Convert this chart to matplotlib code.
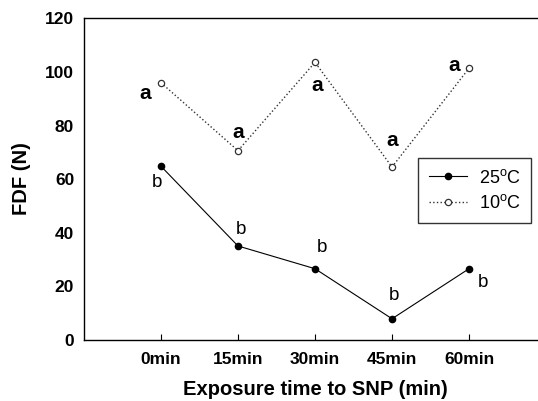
import matplotlib
matplotlib.use("Agg")
import matplotlib.pyplot as plt

plt.rcParams['font.family'] = ['Liberation Sans', 'DejaVu Sans']

categories = ["0min", "15min", "30min", "45min", "60min"]
fdf_25 = [64.8, 35.0, 26.5, 7.8, 26.5]
fdf_10 = [96.0, 70.6, 103.6, 64.5, 101.4]
letters_25 = ["b", "b", "b", "b", "b"]
letters_10 = ["a", "a", "a", "a", "a"]
yticks = [0, 20, 40, 60, 80, 100, 120]

fig = plt.figure(figsize=(5.38, 4.01), dpi=100)
ax = fig.add_axes([0.156, 0.153, 0.859, 0.801])

x = list(range(len(categories)))
ax.plot(x, fdf_25, color='black', lw=0.8, marker='o', ms=4.5,
        mfc='black', mec='black', label='25$^{\\mathregular{o}}$C')
ax.plot(x, fdf_10, color='#333333', lw=1.0, ls=':', marker='o', ms=4.5,
        mfc='white', mec='#333333', mew=0.9, label='10$^{\\mathregular{o}}$C')

# letter annotations (offsets in points)
off_10 = [(-11.5, -8), (0, 13), (1.5, -16.5), (0, 19), (-11, 2)]
off_25 = [(-3, -12), (2, 11.5), (5, 15), (1.5, 16.5), (10, -10)]
for i in x:
    ax.annotate(letters_10[i], (x[i], fdf_10[i]), xytext=off_10[i],
                textcoords='offset points', ha='center', va='center',
                fontsize=15, fontweight='bold')
    ax.annotate(letters_25[i], (x[i], fdf_25[i]), xytext=off_25[i],
                textcoords='offset points', ha='center', va='center',
                fontsize=13.5)

ax.set_xlim(-1, 5)
ax.set_ylim(0, 120)
ax.set_xticks(x)
ax.set_xticklabels(categories, fontsize=12.5, fontweight='bold')
ax.set_yticks(yticks)
ax.set_yticklabels([str(v) for v in yticks], fontsize=12.5, fontweight='bold')
ax.tick_params(axis='x', direction='in', length=4, pad=9)
ax.tick_params(axis='y', direction='in', length=0, pad=7)
for s in ax.spines.values():
    s.set_linewidth(1.0)
ax.spines['right'].set_visible(False)

ax.set_xlabel('Exposure time to SNP (min)', fontsize=14.5, fontweight='bold', labelpad=9)
ax.set_ylabel('FDF (N)', fontsize=14.5, fontweight='bold', labelpad=10)

leg = ax.legend(loc='upper left', bbox_to_anchor=(0.723, 0.566), fontsize=13,
                frameon=True, fancybox=False, edgecolor='black',
                handlelength=2.1, handletextpad=0.65, borderpad=0.6,
                labelspacing=0.4, borderaxespad=0)
leg.get_frame().set_linewidth(1.0)

fig.savefig('out.png', dpi=100)
